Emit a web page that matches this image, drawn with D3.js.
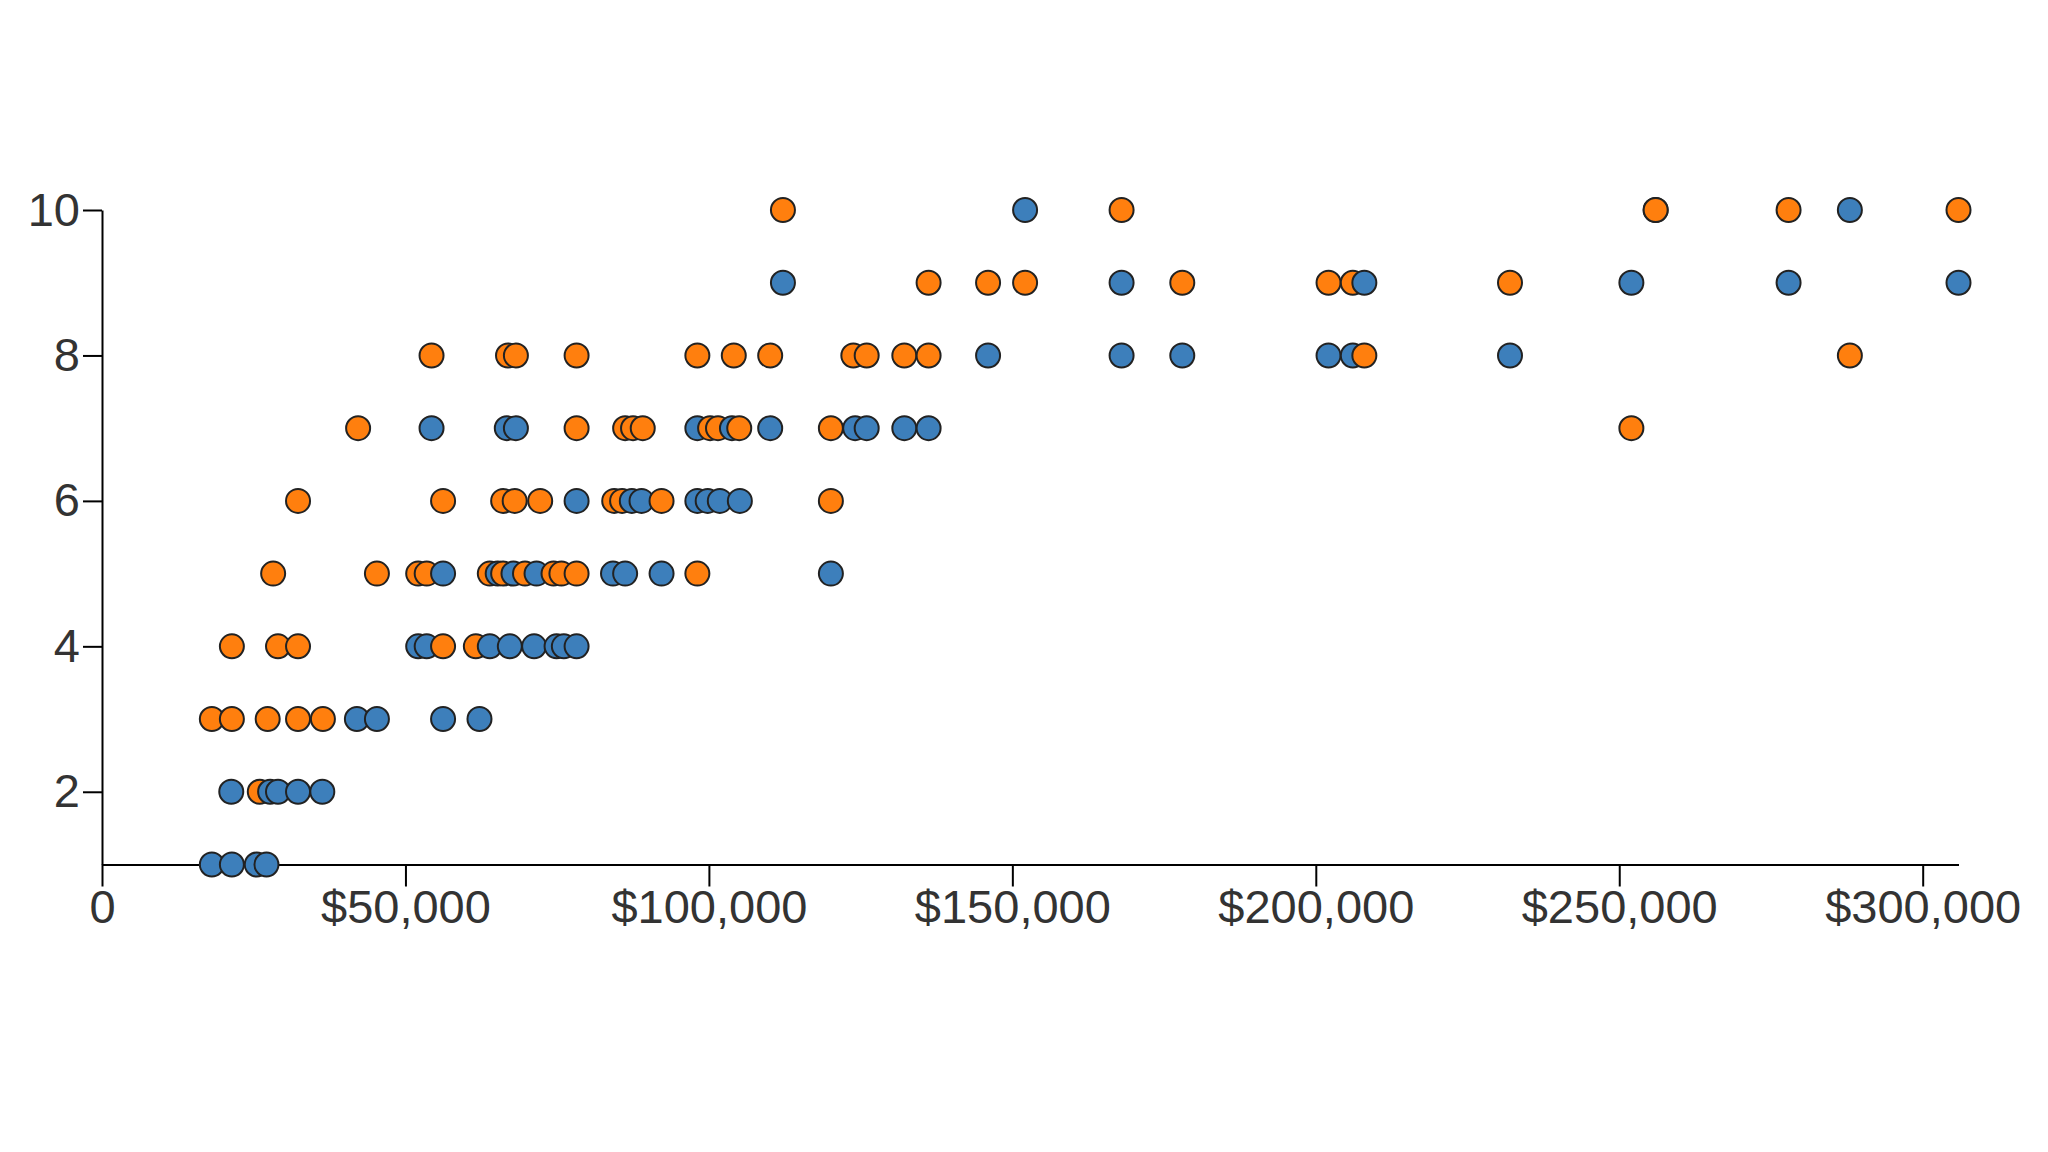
<!DOCTYPE html>
<html>
<head>
<meta charset="utf-8">
<script src="https://cdn.jsdelivr.net/npm/d3@7"></script>
<style>
  html, body { margin: 0; padding: 0; background: #fff; }
  svg { display: block; }
  .axis text { font-family: "Liberation Sans", Arial, sans-serif; font-size: 47px; fill: #333; }
  .axis path, .axis line { stroke: #000; stroke-width: 2; }
</style>
</head>
<body>
<svg id="chart" width="2048" height="1152"></svg>
<script>
// Series A (blue): income and rating
const blueIncome = [
  18100, 21400, 25500, 27100,
  21300, 27700, 29000, 32300, 36300,
  42000, 45300, 56200, 62200,
  52100, 53500, 63900, 67200, 71200, 74900, 76100, 78200,
  56200, 65200, 67800, 71600, 84200, 86200, 92200, 120100,
  78200, 87300, 88900, 98100, 99800, 101800, 105100,
  54300, 66700, 68200, 98100, 103800, 110100, 124100, 126000, 132200, 136200,
  146000, 168000, 178000, 202100, 206100, 232000,
  112200, 168000, 208000, 252000, 277900, 305900,
  152100, 256000, 288000
];
const blueRating = [
  1, 1, 1, 1,
  2, 2, 2, 2, 2,
  3, 3, 3, 3,
  4, 4, 4, 4, 4, 4, 4, 4,
  5, 5, 5, 5, 5, 5, 5, 5,
  6, 6, 6, 6, 6, 6, 6,
  7, 7, 7, 7, 7, 7, 7, 7, 7, 7,
  8, 8, 8, 8, 8, 8,
  9, 9, 9, 9, 9, 9,
  10, 10, 10
];
// Series B (orange): income and rating
const orangeIncome = [
  26000,
  18100, 21400, 27300, 32300, 36400,
  21400, 29000, 32300, 56200, 61600,
  28200, 45300, 52100, 53500, 63900, 66100, 69700, 74400, 75700, 78200, 98100,
  32300, 56200, 66100, 68000, 72200, 84400, 85700, 92200, 120100,
  42200, 78200, 86200, 87500, 89100, 100200, 101500, 105000, 120100, 252000,
  54300, 66900, 68200, 78200, 98100, 104100, 110100, 123800, 126000, 132200, 136200, 208000, 288000,
  136200, 146000, 152100, 178000, 202100, 206100, 232000,
  112200, 168000, 256000, 277900, 305900
];
const orangeRating = [
  2,
  3, 3, 3, 3, 3,
  4, 4, 4, 4, 4,
  5, 5, 5, 5, 5, 5, 5, 5, 5, 5, 5,
  6, 6, 6, 6, 6, 6, 6, 6, 6,
  7, 7, 7, 7, 7, 7, 7, 7, 7, 7,
  8, 8, 8, 8, 8, 8, 8, 8, 8, 8, 8, 8, 8,
  9, 9, 9, 9, 9, 9, 9,
  10, 10, 10, 10, 10
];
const seriesNames = ["blue", "orange"];
const seriesColors = ["#3d7fbb", "#ff7f0e"];
const xTickValues = [0, 50000, 100000, 150000, 200000, 250000, 300000];
const yTickValues = [2, 4, 6, 8, 10];

const margin = { left: 102, top: 210 };
const width = 1856.5, height = 654.5;

const points = [];
blueIncome.forEach((v, i) => points.push({ x: v, y: blueRating[i], s: 0 }));
orangeIncome.forEach((v, i) => points.push({ x: v, y: orangeRating[i], s: 1 }));
points.sort((a, b) => a.x - b.x || a.s - b.s);

const svg = d3.select("#chart");
const g = svg.append("g").attr("transform", `translate(${margin.left},${margin.top})`);

const x = d3.scaleLinear().domain([0, d3.max(points, d => d.x)]).range([0, width]);
const y = d3.scaleLinear().domain([1, 10]).range([height, 0]);

const fmt = d3.format("$,");
g.append("g").attr("class", "axis x")
  .attr("transform", `translate(0,${height})`)
  .call(d3.axisBottom(x).tickValues(xTickValues).tickSize(22).tickSizeOuter(0).tickPadding(3)
    .tickFormat(d => d === 0 ? "0" : fmt(d)))
  .call(a => a.selectAll("text").attr("font-size", null).attr("font-family", null));

g.append("g").attr("class", "axis y")
  .call(d3.axisLeft(y).tickValues(yTickValues).tickSize(19).tickSizeOuter(0).tickPadding(3))
  .call(a => a.selectAll("text").attr("font-size", null).attr("font-family", null));

g.append("g").selectAll("circle")
  .data(points)
  .join("circle")
  .attr("cx", d => x(d.x))
  .attr("cy", d => y(d.y))
  .attr("r", 12)
  .attr("fill", d => seriesColors[d.s])
  .attr("stroke", "#222")
  .attr("stroke-width", 2);
</script>
</body>
</html>
